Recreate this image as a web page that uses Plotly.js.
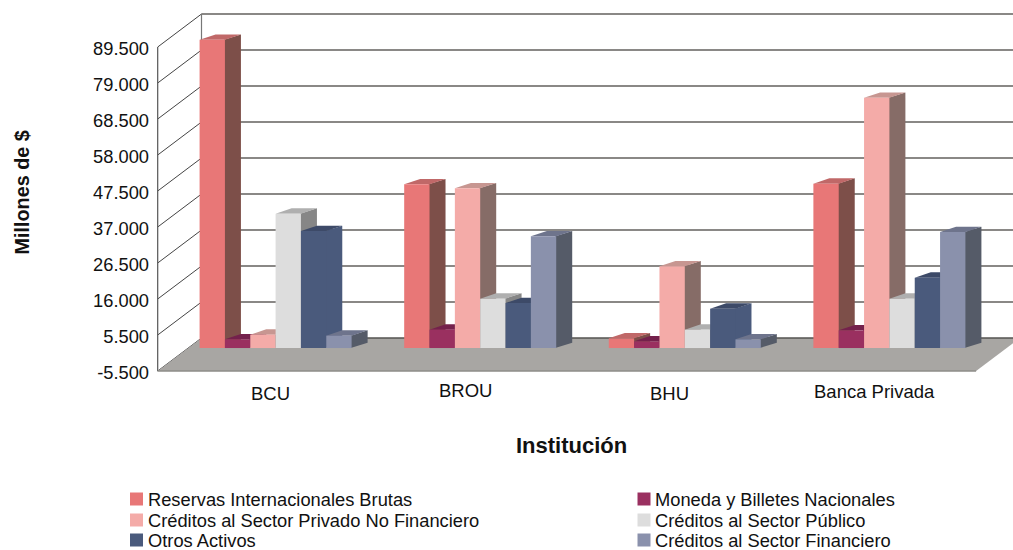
<!DOCTYPE html>
<html><head><meta charset="utf-8">
<script src="https://cdn.plot.ly/plotly-3.0.1.min.js"></script>
<style>html,body{margin:0;padding:0;background:#fff}</style></head>
<body><div id="chart" style="width:1013px;height:550px"></div>
<script>
const categories = ["BCU","BROU","BHU","Banca Privada"];
const reservas  = [90400,48000,2840,48200];
const moneda    = [2550,5400,1960,5190];
const privado   = [3930,46820,23950,73400];
const publico   = [39400,14480,5400,14480];
const otros     = [34300,13200,11550,20640];
const financiero= [3640,32750,2550,34000];
const seriesNames = ["Reservas Internacionales Brutas","Moneda y Billetes Nacionales","Créditos al Sector Privado No Financiero","Créditos al Sector Público","Otros Activos","Créditos al Sector Financiero"];
const seriesValues = [reservas,moneda,privado,publico,otros,financiero];
const frontColors = ["#E87777","#9A3060","#F4ABA8","#DDDDDD","#4A5A7C","#8A91AC"];
const sideColors  = ["#7D4F49","#74214C","#866C67","#868686","#4A5A7C","#555B68"];
const topColors   = ["#C06868","#74214C","#C79691","#AFAFAF","#3D4A68","#6E748C"];
const yTickLabels = ["-5.500","5.500","16.000","26.500","37.000","47.500","58.000","68.500","79.000","89.500"];
const yMin = -5500, yMax = 89500;

// page geometry
const W=1013,H=550, plotL=150, plotT=4, plotB=375, frontL=157.7, frontB=371;
const pxPerCat=204.6, k=324/(yMax-yMin);
const xRange=[-0.5-(frontL-plotL)/pxPerCat, -0.5+(W-frontL)/pxPerCat];
const yRange=[yMin-(plotB-frontB)/k, yMin+(frontB-plotT)/k];
const wallDx=43.8/pxPerCat, wallDy=33/k;      // depth of walls and floor
const barDx=16/pxPerCat, barDy=5.3/k;         // depth of a bar
const offX=15.6/pxPerCat, offY=4.2/k;         // where the front of the bars sits
const groupW=0.743, slot=groupW/6;
const tuck=1/pxPerCat;                        // sides run slightly under the bar fronts
const tickVals=yTickLabels.map((_,i)=>yMin+i*(yMax-yMin)/9);
const paperX=px=>(px-plotL)/(W-plotL), paperY=py=>(plotB-py)/(plotB-plotT);
const textColor="#111111", font="Liberation Sans, Arial, sans-serif";

const traces=seriesNames.map((n,s)=>({
  type:"bar",name:n,x:categories.map((_,i)=>i+offX),y:seriesValues[s],base:offY,
  marker:{color:frontColors[s],line:{width:0}},showlegend:false,
  hovertemplate:n+": %{y}<extra></extra>"
}));

const poly=(pts,fill,line)=>({type:"path",xref:"x",yref:"y",layer:"below",
  path:"M"+pts.map(p=>p[0]+" "+p[1]).join("L")+"Z",fillcolor:fill,line:line||{width:0}});
const seg=(x0,y0,x1,y1,color,width)=>({type:"line",xref:"x",yref:"y",layer:"below",x0,y0,x1,y1,line:{color,width}});

const shapes=[];
const xF=-0.5, xEnd=xF+categories.length;
// back wall and side wall
tickVals.forEach(v=>{
  if(v>yMin) shapes.push(seg(xF+wallDx,v+wallDy,xRange[1],v+wallDy,"#8A8886",2));
  shapes.push(seg(xF,v,xF+wallDx,v+wallDy,"#444444",1));
});
shapes.push(seg(xF,yMin,xF,yMax,"#555555",1.2));
shapes.push(seg(xF+wallDx,yMin+wallDy,xF+wallDx,yMax+wallDy,"#777777",1.2));
// floor
shapes.push(poly([[xF,yMin],[xF+wallDx,yMin+wallDy],[xEnd+wallDx,yMin+wallDy],[xEnd,yMin]],"#A8A6A3"));
shapes.push(seg(xF+wallDx,yMin+wallDy,xRange[1],yMin+wallDy,"#555350",1.6));
shapes.push(seg(xF,yMin,xEnd,yMin,"#8E8C89",1.6));
// sides and tops of the bars, left to right
categories.forEach((_,i)=>{
  seriesValues.forEach((vals,s)=>{
    const l=i+offX-groupW/2+s*slot, r=l+slot, b=offY, t=vals[i]+offY;
    shapes.push(poly([[r-tuck,b],[r+barDx,b+barDy],[r+barDx,t+barDy],[r-tuck,t]],sideColors[s]));
    shapes.push(poly([[l,t],[l+barDx,t+barDy],[r+barDx,t+barDy],[r,t]],topColors[s]));
  });
});

const catLabelX=[270,465,669,874], catLabelY=[393,390,393,391];
const ann=(text,px,py,size,extra)=>Object.assign({text,xref:"paper",yref:"paper",x:paperX(px),y:paperY(py),
  xanchor:"center",yanchor:"middle",showarrow:false,font:{family:font,size,color:textColor}},extra||{});
const annotations=categories.map((c,i)=>ann(c,catLabelX[i],catLabelY[i],18.5));
annotations.push(ann("<b>Institución</b>",571,445,22));
annotations.push(ann("<b>Millones de $</b>",21,192.5,19.8,{textangle:-90}));

// legend in two columns
const legX=[130,637.5], legY=[499,520,540];
seriesNames.forEach((n,s)=>{
  const c=s%2, r=Math.floor(s/2);
  shapes.push({type:"rect",xref:"paper",yref:"paper",layer:"above",
    x0:paperX(legX[c]),x1:paperX(legX[c]+13),y0:paperY(legY[r]-6.5),y1:paperY(legY[r]+6.5),
    fillcolor:frontColors[s],line:{width:0}});
  annotations.push(ann(n,legX[c]+15.5,legY[r],18.3,{xanchor:"left"}));
});

const layout={
  width:W,height:H,autosize:false,paper_bgcolor:"#fff",plot_bgcolor:"rgba(0,0,0,0)",
  margin:{l:plotL,r:0,t:plotT,b:H-plotB,pad:0,autoexpand:false},
  barmode:"group",bargap:1-groupW,bargroupgap:0,showlegend:false,
  font:{family:font,color:textColor},
  xaxis:{type:"linear",range:xRange,showgrid:false,zeroline:false,showticklabels:false,ticks:"",showline:false},
  yaxis:{type:"linear",range:yRange,tickmode:"array",tickvals:tickVals,ticktext:yTickLabels,ticklabelshift:2,
    tickfont:{family:font,size:18.3,color:textColor},showgrid:false,zeroline:false,ticks:"",showline:false},
  shapes,annotations
};
Plotly.newPlot("chart",traces,layout,{displayModeBar:false,staticPlot:true});
</script></body></html>
